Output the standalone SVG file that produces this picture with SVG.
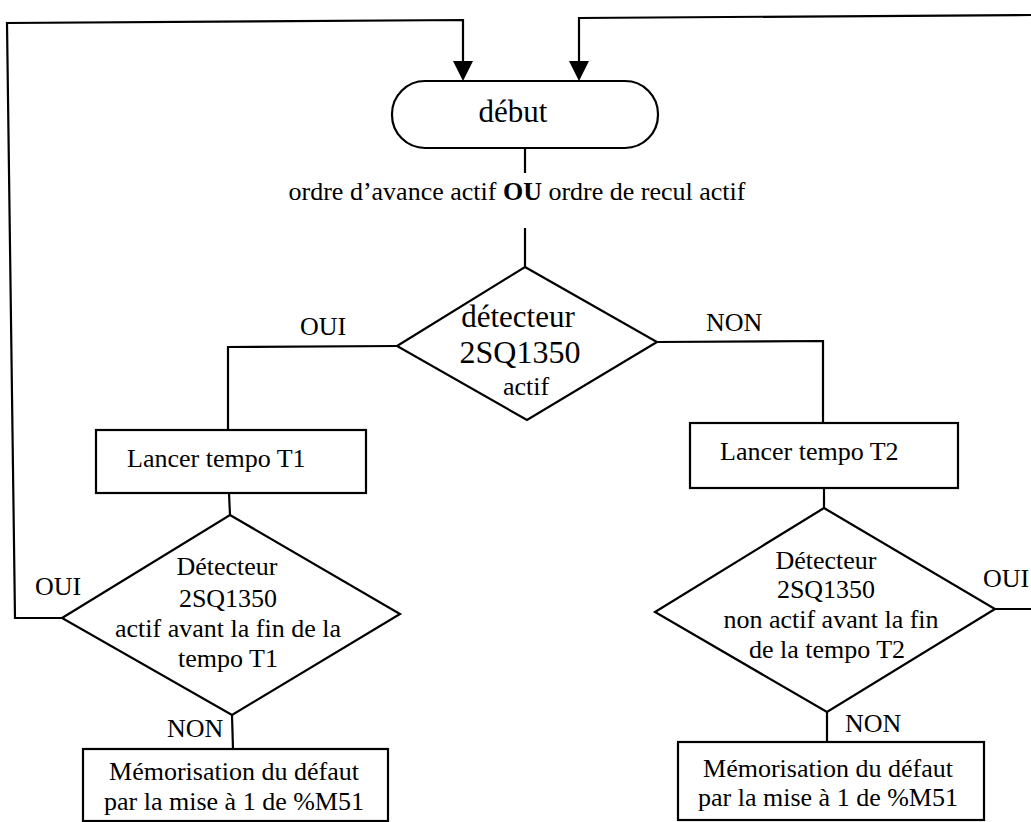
<svg xmlns="http://www.w3.org/2000/svg" xmlns:xlink="http://www.w3.org/1999/xlink" width="1031" height="822" viewBox="0 0 1031 822">
<defs>
<style>
.ln{fill:none;stroke:#000;stroke-width:2.2}
.sh{fill:#fff;stroke:#000;stroke-width:2.2}
text{font-family:"Liberation Serif","Times New Roman",serif;fill:#000;font-size:26px}
.c{text-anchor:middle}
</style>
<path id="ahd" d="M-10,-20 L10,-20 L0,0 Z" fill="#000"/>
</defs>
<rect width="1031" height="822" fill="#fff"/>
<g id="connectors">
<path class="ln" d="M62,618 L15,618 L7,23 L463,20 L463,64"/>
<use href="#ahd" xlink:href="#ahd" x="463" y="81"/>
<path class="ln" d="M1031,15 L579,18 L579,64"/>
<use href="#ahd" xlink:href="#ahd" x="579" y="81"/>
<path class="ln" d="M525,148 L525,173"/>
<path class="ln" d="M525,228 L525,267"/>
<path class="ln" d="M397,346 L228,347 L228,430"/>
<path class="ln" d="M657,342 L823,341 L823,423"/>
<path class="ln" d="M229,493 L230,515"/>
<path class="ln" d="M824,488 L824,508"/>
<path class="ln" d="M232,715 L233,749"/>
<path class="ln" d="M827,712 L827,742"/>
<path class="ln" d="M995,609 L1031,609"/>
<text x="300" y="335">OUI</text>
<text x="706" y="331">NON</text>
<text x="35" y="595">OUI</text>
<text x="983" y="587">OUI</text>
<text x="167" y="737">NON</text>
<text x="845" y="732">NON</text>
</g>
<g id="debut">
<rect class="sh" x="392" y="81" width="266" height="67" rx="33" ry="33"/>
<text class="c" x="513" y="122" style="font-size:31px">début</text>
</g>
<g id="condition">
<text class="c" x="517" y="200">ordre d’avance actif <tspan font-weight="bold">OU</tspan> ordre de recul actif</text>
</g>
<g id="decision1">
<polygon class="sh" points="525,267 657,342 527,420 397,346"/>
<text class="c" x="518" y="327" style="font-size:31px">détecteur</text>
<text class="c" x="520" y="363" style="font-size:32px">2SQ1350</text>
<text class="c" x="526" y="395">actif</text>
</g>
<g id="tempoT1">
<rect class="sh" x="96" y="430" width="270" height="63"/>
<text x="127" y="467">Lancer tempo T1</text>
</g>
<g id="tempoT2">
<rect class="sh" x="690" y="423" width="268" height="65"/>
<text x="720" y="460">Lancer tempo T2</text>
</g>
<g id="decision2">
<polygon class="sh" points="230,515 400,614 232,715 62,618"/>
<text class="c" x="227" y="575">Détecteur</text>
<text class="c" x="228" y="607">2SQ1350</text>
<text class="c" x="228" y="637">actif avant la fin de la</text>
<text class="c" x="228" y="667">tempo T1</text>
</g>
<g id="decision3">
<polygon class="sh" points="824,508 995,609 827,712 655,612"/>
<text class="c" x="826" y="569">Détecteur</text>
<text class="c" x="826" y="598">2SQ1350</text>
<text class="c" x="831" y="628">non actif avant la fin</text>
<text class="c" x="827" y="658">de la tempo T2</text>
</g>
<g id="memo1">
<rect class="sh" x="83" y="749" width="305" height="72"/>
<text class="c" x="234" y="780">Mémorisation du défaut</text>
<text class="c" x="234" y="810">par la mise à 1 de %M51</text>
</g>
<g id="memo2">
<rect class="sh" x="678" y="742" width="306" height="78"/>
<text class="c" x="828" y="777">Mémorisation du défaut</text>
<text class="c" x="828" y="806">par la mise à 1 de %M51</text>
</g>
</svg>
